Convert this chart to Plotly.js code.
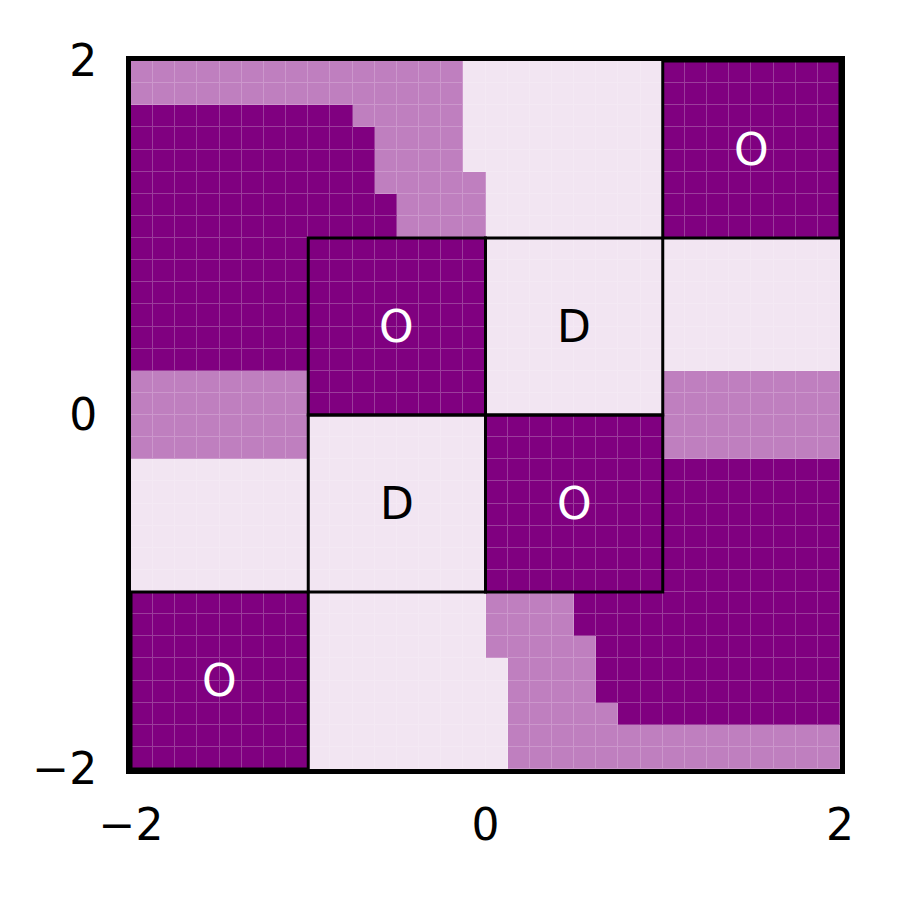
<!DOCTYPE html>
<html>
<head>
<meta charset="utf-8">
<script src="https://cdn.plot.ly/plotly-3.0.1.min.js"></script>
<style>html,body{margin:0;padding:0;background:#fff;}#chart{width:899px;height:899px;}</style>
</head>
<body>
<div id="chart"></div>
<script>
// Cell classes, rows listed from top (y = 2) to bottom (y = -2); 0 light, 1 medium, 2 dark
const gridRows = [
  "11111111111111100000000022222222",
  "11111111111111100000000022222222",
  "22222222221111100000000022222222",
  "22222222222111100000000022222222",
  "22222222222111100000000022222222",
  "22222222222111110000000022222222",
  "22222222222211110000000022222222",
  "22222222222211110000000022222222",
  "22222222222222220000000000000000",
  "22222222222222220000000000000000",
  "22222222222222220000000000000000",
  "22222222222222220000000000000000",
  "22222222222222220000000000000000",
  "22222222222222220000000000000000",
  "11111111222222220000000011111111",
  "11111111222222220000000011111111",
  "11111111000000002222222211111111",
  "11111111000000002222222211111111",
  "00000000000000002222222222222222",
  "00000000000000002222222222222222",
  "00000000000000002222222222222222",
  "00000000000000002222222222222222",
  "00000000000000002222222222222222",
  "00000000000000002222222222222222",
  "22222222000000001111222222222222",
  "22222222000000001111222222222222",
  "22222222000000001111122222222222",
  "22222222000000000111122222222222",
  "22222222000000000111122222222222",
  "22222222000000000111112222222222",
  "22222222000000000111111111111111",
  "22222222000000000111111111111111"
];
const cellSize = 0.125;
const axisMin = -2, axisMax = 2;
const tickVals = [-2, 0, 2];
const labelX = [1.5, -0.5, 0.5, -0.5, 0.5, -1.5];
const labelY = [1.5, 0.5, 0.5, -0.5, -0.5, -1.5];
const labelText = ["O", "O", "D", "D", "O", "O"];

const fillColors = ["#f2e5f2", "#bf7fbf", "#800080"];
const seamColors = ["#f4e9f4", "#cc97cc", "#9c3c9c"];
const textColors = {"O": "#ffffff", "D": "#000000"};

const z = gridRows.slice().reverse().map(r => r.split("").map(Number));
const n = gridRows[0].length;
const centers = Array.from({length: n}, (_, i) => axisMin + cellSize * (i + 0.5));

function scale(cols) {
  return [[0, cols[0]], [0.5, cols[1]], [1, cols[2]]];
}

const base = {
  type: "heatmap", z: z, x: centers, y: centers, zmin: 0, zmax: 2,
  showscale: false, hoverinfo: "skip"
};
const traces = [
  Object.assign({}, base, {colorscale: scale(seamColors)}),
  Object.assign({}, base, {colorscale: scale(fillColors), xgap: 1, ygap: 1})
];

const shapes = labelX.map((x, i) => ({
  type: "rect", xref: "x", yref: "y",
  x0: x - 0.5, x1: x + 0.5, y0: labelY[i] - 0.5, y1: labelY[i] + 0.5,
  line: {color: "#000", width: 3}, fillcolor: "rgba(0,0,0,0)", layer: "above"
}));

const annotations = labelX.map((x, i) => ({
  x: x, y: labelY[i], xref: "x", yref: "y", text: labelText[i], showarrow: false,
  font: {family: "DejaVu Sans", size: 44, color: textColors[labelText[i]]}
}));

const axisCommon = {
  range: [axisMin, axisMax], tickvals: tickVals, ticks: "", showgrid: false, zeroline: false,
  showline: true, mirror: true, linecolor: "#000", linewidth: 5,
  tickfont: {family: "DejaVu Sans", size: 44, color: "#000"}
};

const layout = {
  width: 899, height: 899,
  margin: {l: 131, r: 59, t: 61, b: 130},
  paper_bgcolor: "#fff", plot_bgcolor: "#fff",
  xaxis: Object.assign({}, axisCommon, {ticklabelstandoff: 13}),
  yaxis: Object.assign({}, axisCommon, {ticklabelstandoff: 20}),
  shapes: shapes, annotations: annotations, showlegend: false
};

Plotly.newPlot("chart", traces, layout, {staticPlot: true});
</script>
</body>
</html>
